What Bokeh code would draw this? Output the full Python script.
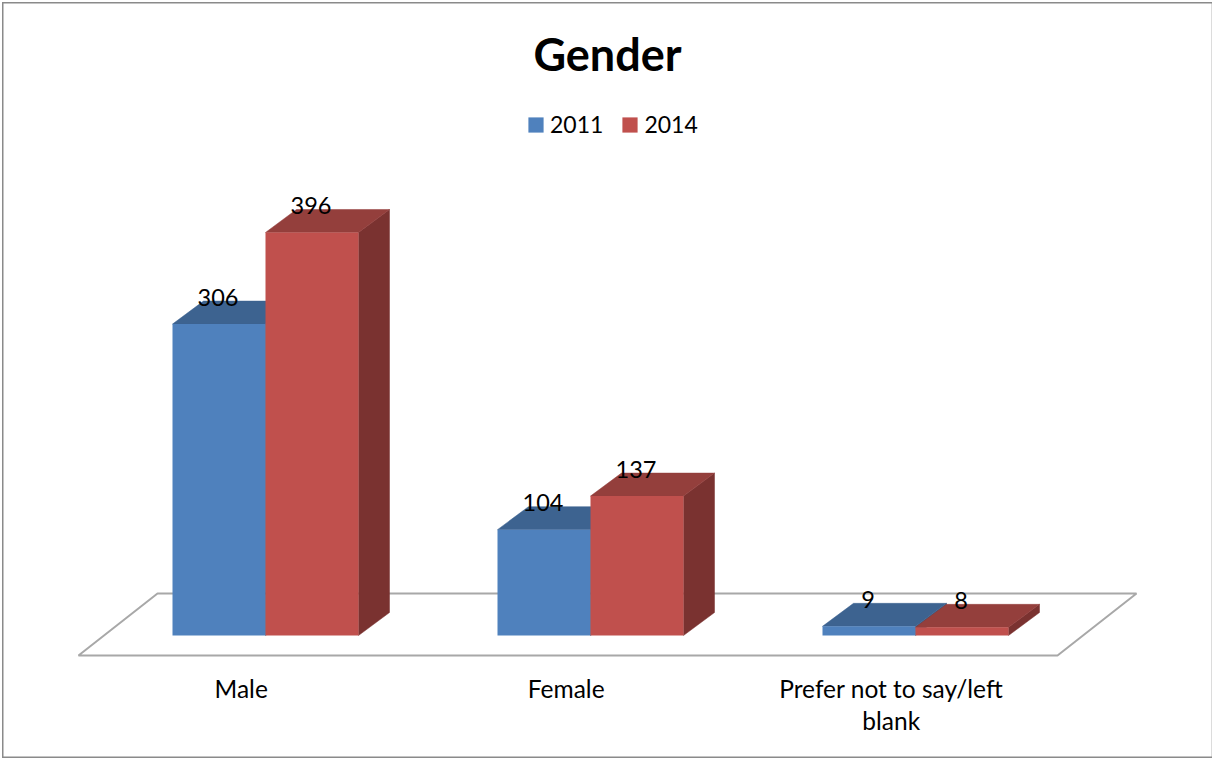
from bokeh.plotting import figure
from bokeh.models import Range1d, LinearAxis, FixedTicker, Legend, LegendItem, ColumnDataSource
from bokeh.core.properties import value
from bokeh.embed import file_html
from bokeh.resources import INLINE

categories = ["Male", "Female", "Prefer not to say/left\nblank"]
series_2011 = [306, 104, 9]
series_2014 = [396, 137, 8]
series_names = ["2011", "2014"]
chart_title = "Gender"

FONT = "Lato"
PX_X = 325.0       # pixels per category
PX_Y = 1.0177      # pixels per respondent
X0, Y0 = 240.7, 635.0   # page position of category 0 and of value 0
W, H = 1210, 756
FRAME_TOP = 88
FRAME_BOTTOM = 665
BW = 93 / PX_X
LEFT = (172 - X0) / PX_X
DX = 31 / PX_X
DY = 23 / PX_Y

p = figure(width=W, height=H, output_backend="svg", toolbar_location=None,
           x_axis_location=None, y_axis_location=None,
           min_border_left=0, min_border_right=0, min_border_top=FRAME_TOP - 2,
           min_border_bottom=H + 2 - FRAME_BOTTOM,
           x_range=Range1d((2 - X0) / PX_X, (2 + W - X0) / PX_X),
           y_range=Range1d((Y0 - FRAME_BOTTOM) / PX_Y, (Y0 - FRAME_TOP) / PX_Y))
p.margin = (2, 0, 0, 2)
p.styles = {"box-shadow": "inset 1.5px 0 0 #8a8a8a, inset 0 1.5px 0 #8a8a8a, "
                          "inset 0 -1.5px 0 #8a8a8a, inset -1px 0 0 #dcdcdc"}
p.outline_line_color = None
p.grid.visible = False
p.background_fill_alpha = 0
p.border_fill_alpha = 0

p.title.text = chart_title
p.title.align = "center"
p.title.text_font = FONT
p.title.text_font_size = "45px"
p.title.text_font_style = "bold"
p.title.text_color = "black"
p.title.standoff = 16

# floor
fy0, fy1 = -20 / PX_Y, 42 / PX_Y
fx0, fx1 = (78 - X0) / PX_X, (1057 - X0) / PX_X
p.patch([fx0, fx1, fx1 + 79 / PX_X, fx0 + 79 / PX_X, fx0], [fy0, fy0, fy1, fy1, fy0],
        fill_color="white", line_color="#a8a8a8", line_width=2)

front = {}
palette = [("#4F81BD", "#3D6390", "#335478"), ("#C0504D", "#943F3C", "#7A3230")]
for s, vals in enumerate([series_2011, series_2014]):
    lefts = [i + LEFT + s * BW for i in range(3)]
    rights = [l + BW for l in lefts]
    c_front, c_top, c_side = palette[s]
    p.patches([[r, r + DX, r + DX, r] for r in rights],
              [[0, DY, v + DY, v] for v in vals],
              fill_color=c_side, line_color=c_side, line_width=0.5)
    p.patches([[l, r, r + DX, l + DX] for l, r in zip(lefts, rights)],
              [[v, v, v + DY, v + DY] for v in vals],
              fill_color=c_top, line_color=c_top, line_width=0.5)
    front[s] = p.quad(left=lefts, right=rights, bottom=[0] * 3, top=vals,
                      fill_color=c_front, line_color=None)

for s, vals in enumerate([series_2011, series_2014]):
    src = ColumnDataSource(dict(x=[i + LEFT + (s + 0.5) * BW - 0.003 for i in range(3)], y=vals,
                                t=[str(v) for v in vals]))
    p.text(x="x", y="y", text="t", source=src, y_offset=-27, text_align="center",
           text_baseline="middle", text_font=value(FONT), text_font_size="23.5px",
           text_color="black")

axis = LinearAxis(ticker=FixedTicker(ticks=[0, 1, 2]),
                  major_label_overrides={i: c for i, c in enumerate(categories)})
axis.axis_line_color = None
axis.major_tick_line_color = None
axis.minor_tick_line_color = None
axis.major_label_text_font = FONT
axis.major_label_text_font_size = "24.5px"
axis.major_label_text_color = "black"
axis.major_label_text_line_height = 1.12
axis.major_label_standoff = 2
p.add_layout(axis, "below")

legend = Legend(items=[LegendItem(label=series_names[i], renderers=[front[i]]) for i in range(2)],
                orientation="horizontal", location=(526 - 2, FRAME_BOTTOM - 138),
                glyph_width=19, glyph_height=19, label_standoff=5, spacing=17,
                padding=0, margin=0, border_line_color=None, background_fill_alpha=0,
                label_text_font=FONT, label_text_font_size="23px", label_text_color="black")
p.add_layout(legend, "center")

html = file_html(p, INLINE)
open("out.html", "w").write(html)
